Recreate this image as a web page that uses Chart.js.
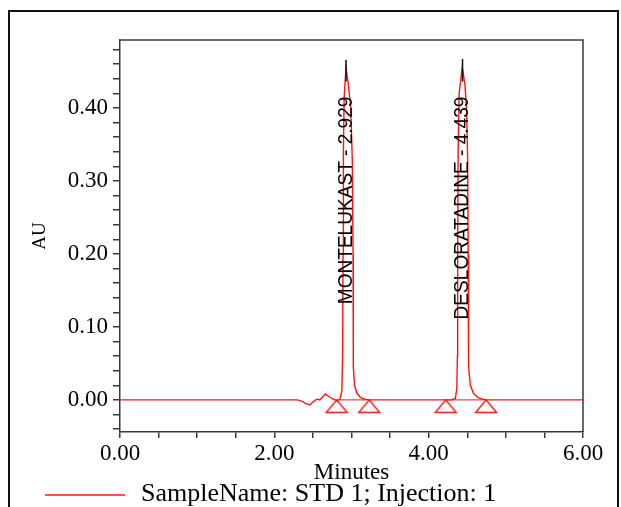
<!DOCTYPE html>
<html>
<head>
<meta charset="utf-8">
<script src="https://cdn.jsdelivr.net/npm/chart.js@4/dist/chart.umd.min.js"></script>
<style>
  html, body { margin: 0; padding: 0; background: #fff; }
  #wrap { width: 621px; height: 507px; position: relative; }
</style>
</head>
<body>
<div id="wrap"><canvas id="chromatogram"></canvas></div>
<script>
// chromatogram trace (minutes, AU)
const traceTime = [0.00, 0.50, 1.00, 1.50, 2.00, 2.30, 2.36, 2.41, 2.46, 2.50, 2.55, 2.59, 2.66, 2.70, 2.76, 2.82,
  2.85, 2.875, 2.885, 2.89, 2.895, 2.905, 2.929, 2.96, 2.99, 3.01, 3.02, 3.022, 3.025, 3.04, 3.07, 3.12, 3.17, 3.23,
  3.60, 4.00, 4.22, 4.30, 4.345, 4.365, 4.372, 4.376, 4.382, 4.395, 4.435, 4.47, 4.49, 4.505, 4.512, 4.515, 4.52,
  4.54, 4.58, 4.64, 4.70, 4.75, 5.00, 5.50, 6.00];
const traceAU = [0.000, 0.000, 0.000, 0.000, 0.000, 0.000, -0.002, -0.005, -0.007, -0.003, 0.001, 0.000, 0.008, 0.005, 0.001, -0.001,
  0.001, 0.012, 0.060, 0.200, 0.340, 0.415, 0.455, 0.432, 0.400, 0.330, 0.200, 0.100, 0.045, 0.020, 0.009, 0.003, 0.001, 0.000,
  0.000, 0.000, 0.000, 0.000, 0.002, 0.015, 0.060, 0.200, 0.340, 0.420, 0.456, 0.432, 0.400, 0.330, 0.200, 0.100, 0.045,
  0.020, 0.009, 0.003, 0.001, 0.000, 0.000, 0.000, 0.000];

const peakNames = ['MONTELUKAST', 'DESLORATADINE'];
const peakTimes = [2.929, 4.439];
const apexLow = [0.436, 0.436];
const apexHigh = [0.466, 0.467];

// peak start / end markers
const markerTimes = [2.808, 3.23, 4.22, 4.743];
const markerAU = [0.000, 0.000, 0.000, 0.000];

const xTickLabels = ['0.00', '2.00', '4.00', '6.00'];
const yTickLabels = ['0.00', '0.10', '0.20', '0.30', '0.40'];
const sampleLabel = 'SampleName: STD 1; Injection: 1';

const RED = 'rgb(255,20,20)';
const AXIS = '#3a3a3a';
const LABEL_TOP = 0.4155;

const tracePoints = traceTime.map((t, i) => ({x: t, y: traceAU[i]}));
const markerPoints = markerTimes.map((t, i) => ({x: t, y: markerAU[i]}));
let baselinePoints = [];
for (let i = 0; i < markerTimes.length; i += 2) {
  baselinePoints.push({x: markerTimes[i], y: markerAU[i]});
  baselinePoints.push({x: markerTimes[i + 1], y: markerAU[i + 1]});
  baselinePoints.push({x: markerTimes[i + 1], y: null});
}
let apexPoints = [];
peakTimes.forEach((t, i) => {
  apexPoints.push({x: t, y: apexLow[i]});
  apexPoints.push({x: t, y: apexHigh[i]});
  apexPoints.push({x: t, y: null});
});

// open triangle, apex at the centre of the image
function makeTriangle() {
  const c = document.createElement('canvas');
  c.width = 24;
  c.height = 28;
  const g = c.getContext('2d');
  g.strokeStyle = RED;
  g.lineWidth = 1.4;
  g.beginPath();
  g.moveTo(12, 14);
  g.lineTo(22.5, 26.5);
  g.lineTo(1.5, 26.5);
  g.closePath();
  g.stroke();
  return c;
}

const framePlugin = {
  id: 'frame',
  beforeDraw: (chart) => {
    const {ctx, chartArea} = chart;
    ctx.save();
    ctx.fillStyle = '#fff';
    ctx.fillRect(0, 0, chart.width, chart.height);
    ctx.strokeStyle = '#111';
    ctx.lineWidth = 2;
    ctx.beginPath();
    ctx.moveTo(9, chart.height + 5);
    ctx.lineTo(9, 11);
    ctx.lineTo(618, 11);
    ctx.lineTo(618, chart.height + 5);
    ctx.stroke();
    ctx.strokeStyle = AXIS;
    ctx.lineWidth = 1.5;
    ctx.beginPath();
    ctx.moveTo(chartArea.left, chartArea.top);
    ctx.lineTo(chartArea.right, chartArea.top);
    ctx.lineTo(chartArea.right, chartArea.bottom);
    ctx.stroke();
    ctx.restore();
  }
};

const peakLabelPlugin = {
  id: 'peakLabels',
  afterDatasetsDraw: (chart) => {
    const {ctx} = chart;
    const x = chart.scales.x;
    const y = chart.scales.y;
    ctx.save();
    ctx.font = '20.5px "Liberation Sans", Arial, sans-serif';
    ctx.fillStyle = '#000';
    ctx.textAlign = 'right';
    ctx.textBaseline = 'middle';
    peakNames.forEach((name, i) => {
      ctx.save();
      ctx.translate(x.getPixelForValue(peakTimes[i]), y.getPixelForValue(LABEL_TOP));
      ctx.rotate(-Math.PI / 2);
      ctx.scale(0.93, 1);
      ctx.fillText(name + ' - ' + peakTimes[i].toFixed(3), 0, 0);
      ctx.restore();
    });
    ctx.restore();
  }
};

const sampleLegendPlugin = {
  id: 'sampleLegend',
  afterDraw: (chart) => {
    const {ctx} = chart;
    ctx.save();
    ctx.strokeStyle = RED;
    ctx.lineWidth = 1.3;
    ctx.beginPath();
    ctx.moveTo(45, 495);
    ctx.lineTo(125, 495);
    ctx.stroke();
    ctx.font = '26px "Liberation Serif", "Times New Roman", serif';
    ctx.fillStyle = '#000';
    ctx.textAlign = 'left';
    ctx.textBaseline = 'middle';
    ctx.fillText(sampleLabel, 141, 494);
    ctx.restore();
  }
};

const serif = '"Liberation Serif", "Times New Roman", serif';

new Chart(document.getElementById('chromatogram'), {
  type: 'scatter',
  data: {
    datasets: [
      {
        label: sampleLabel,
        data: tracePoints,
        showLine: true,
        borderColor: RED,
        borderWidth: 1.4,
        pointRadius: 0,
        tension: 0,
        order: 3
      },
      {
        label: 'integration baseline',
        data: baselinePoints,
        showLine: true,
        spanGaps: false,
        borderColor: RED,
        borderWidth: 1,
        pointRadius: 0,
        order: 2
      },
      {
        label: 'peak markers',
        data: markerPoints,
        pointStyle: makeTriangle(),
        pointRadius: 12,
        order: 1
      },
      {
        label: 'apex',
        data: apexPoints,
        showLine: true,
        spanGaps: false,
        borderColor: '#111',
        borderWidth: 1.5,
        pointRadius: 0,
        order: 0
      }
    ]
  },
  options: {
    responsive: true,
    maintainAspectRatio: false,
    animation: false,
    layout: {
      padding: {top: 40, right: 38, bottom: 22, left: 0}
    },
    plugins: {
      legend: {display: false},
      tooltip: {enabled: false}
    },
    scales: {
      x: {
        type: 'linear',
        position: 'bottom',
        min: 0,
        max: 6,
        afterFit: (scale) => { scale.height = 53; },
        ticks: {
          stepSize: 0.5,
          autoSkip: false,
          maxRotation: 0,
          padding: 2,
          color: '#000',
          font: {family: serif, size: 23},
          callback: (value) => {
            const s = Number(value).toFixed(2);
            return xTickLabels.includes(s) ? s : '';
          }
        },
        grid: {
          drawOnChartArea: false,
          drawTicks: true,
          tickLength: 6,
          color: AXIS,
          lineWidth: 1.5
        },
        border: {color: AXIS, width: 1.5},
        title: {
          display: true,
          text: 'Minutes',
          color: '#000',
          font: {family: serif, size: 23, lineHeight: 1},
          padding: {top: 0, bottom: 1}
        }
      },
      y: {
        type: 'linear',
        min: -0.044,
        max: 0.493,
        afterFit: (scale) => { scale.width = 120; },
        ticks: {
          stepSize: 0.02,
          includeBounds: false,
          autoSkip: false,
          padding: 5,
          color: '#000',
          font: {family: serif, size: 23},
          callback: (value) => {
            const s = Number(value).toFixed(2);
            return yTickLabels.includes(s) ? s : '';
          }
        },
        grid: {
          drawOnChartArea: false,
          drawTicks: true,
          tickLength: 7,
          color: AXIS,
          lineWidth: 1.5
        },
        border: {color: AXIS, width: 1.5},
        title: {
          display: true,
          text: 'AU',
          color: '#000',
          font: {family: serif, size: 19, lineHeight: 1.2},
          padding: {top: 29, bottom: 0}
        }
      }
    }
  },
  plugins: [framePlugin, peakLabelPlugin, sampleLegendPlugin]
});
</script>
</body>
</html>
